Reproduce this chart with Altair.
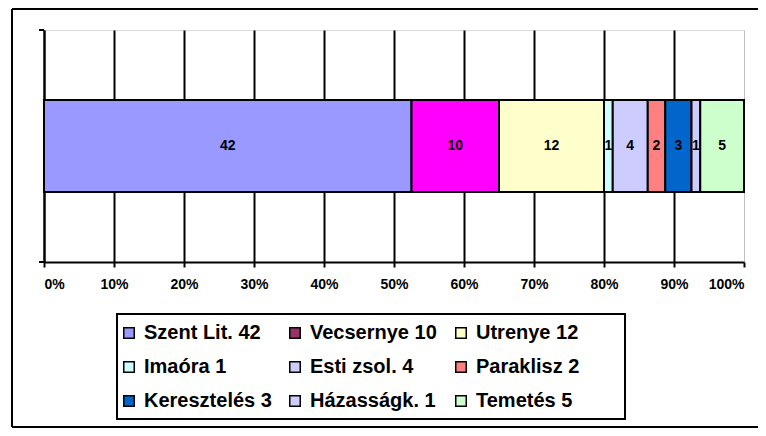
import altair as alt
import pandas as pd

categories = ["Szent Lit.", "Vecsernye", "Utrenye", "Imaóra", "Esti zsol.",
              "Paraklisz", "Keresztelés", "Házasságk.", "Temetés"]
values = [42, 10, 12, 1, 4, 2, 3, 1, 5]
bar_colors = ["#9999FF", "#FF00FF", "#FFFFCC", "#CCFFFF", "#CCCCFF",
              "#FF8080", "#0066CC", "#CCCCFF", "#CCFFCC"]
legend_colors = ["#9999FF", "#993366", "#FFFFCC", "#CCFFFF", "#CCCCFF",
                 "#FF8080", "#0066CC", "#CCCCFF", "#CCFFCC"]
tick_values = [0, 0.1, 0.2, 0.3, 0.4, 0.5, 0.6, 0.7, 0.8, 0.9, 1.0]

legend_labels = [f"{c} {v}" for c, v in zip(categories, values)]

df = pd.DataFrame({
    "cat": categories,
    "value": values,
    "order": list(range(len(categories))),
    "barcolor": bar_colors,
    "label": legend_labels,
    "row": ["r"] * len(categories),
})

FONT = "Liberation Sans"

base = alt.Chart(df).transform_stack(
    stack="value", groupby=["row"], as_=["x0", "x1"],
    offset="normalize", sort=[alt.SortField("order")]
).transform_calculate(mid="(datum.x0 + datum.x1) / 2")

yenc = alt.Y("row:N", title=None,
             scale=alt.Scale(paddingOuter=0.76, paddingInner=0),
             axis=alt.Axis(labels=False, ticks=False, domain=True,
                           domainColor="black", domainWidth=2, title=None))

xaxis = alt.Axis(
    values=tick_values, format="%", title=None,
    labelFont=FONT, labelFontSize=14, labelFontWeight="bold", labelColor="black",
    labelPadding=10, tickSize=5, tickColor="black", tickWidth=2,
    domainColor="black", domainWidth=2,
    grid=True,
    gridColor={"condition": {"test": "datum.value >= 1", "value": "#C0C0C0"}, "value": "black"},
    gridWidth={"condition": {"test": "datum.value >= 1", "value": 1}, "value": 2},
)

legend_pts = base.mark_square(size=100, opacity=1, stroke="black", strokeWidth=1.5).encode(
    x=alt.X("mid:Q", scale=alt.Scale(domain=[0, 1], nice=False), axis=xaxis),
    y=yenc,
    color=alt.Color("label:N", sort=legend_labels,
                    scale=alt.Scale(domain=legend_labels, range=legend_colors),
                    legend=alt.Legend(
                        title=None, orient="none", legendX=75, legendY=293,
                        columns=3, direction="horizontal", gridAlign="all",
                        columnPadding=13, rowPadding=14, padding=0,
                        symbolType="square", symbolSize=110,
                        symbolStrokeColor="black", symbolStrokeWidth=1.5,
                        labelFont=FONT, labelFontSize=20, labelFontWeight="bold",
                        labelColor="black", labelOffset=5, labelLimit=400,
                    )),
)

bars = base.mark_bar(stroke="black", strokeWidth=2).encode(
    x=alt.X("x0:Q", scale=alt.Scale(domain=[0, 1], nice=False), axis=xaxis),
    x2="x1:Q",
    y=yenc,
    fill=alt.Fill("barcolor:N", scale=None),
)

texts = base.mark_text(font=FONT, fontSize=14, fontWeight="bold", color="black").encode(
    x=alt.X("mid:Q"),
    y=yenc,
    text="value:Q",
)

# decorations: y-axis end ticks, legend box, outer frame (left, top, bottom)
def rule(x, x2, y, y2=None):
    enc = dict(x=alt.value(x), x2=alt.value(x2), y=alt.value(y))
    if y2 is not None:
        enc["y2"] = alt.value(y2)
    return alt.Chart(df).mark_rule(color="black", strokeWidth=2).encode(**enc)

ytick_top = rule(-5, 0, 0)
ytick_bot = rule(-5, 0, 232)
legend_box = alt.Chart(df).mark_rect(fill=None, stroke="black", strokeWidth=2).encode(
    x=alt.value(73), x2=alt.value(581), y=alt.value(284), y2=alt.value(389))
frame_left = rule(-32, -32, -21, 397)
frame_top = rule(-32, 720, -21)
frame_bot = rule(-32, 720, 397)

chart = alt.layer(
    legend_pts, bars, texts, ytick_top, ytick_bot, legend_box,
    frame_left, frame_top, frame_bot
).properties(
    width=700, height=232,
    autosize=alt.AutoSizeParams(type="none"),
    padding={"left": 36, "top": 22, "right": 14, "bottom": 166},
).configure_view(stroke=None).configure(background="white")

chart.save("out.html", embed_options={"renderer": "svg", "actions": False})
